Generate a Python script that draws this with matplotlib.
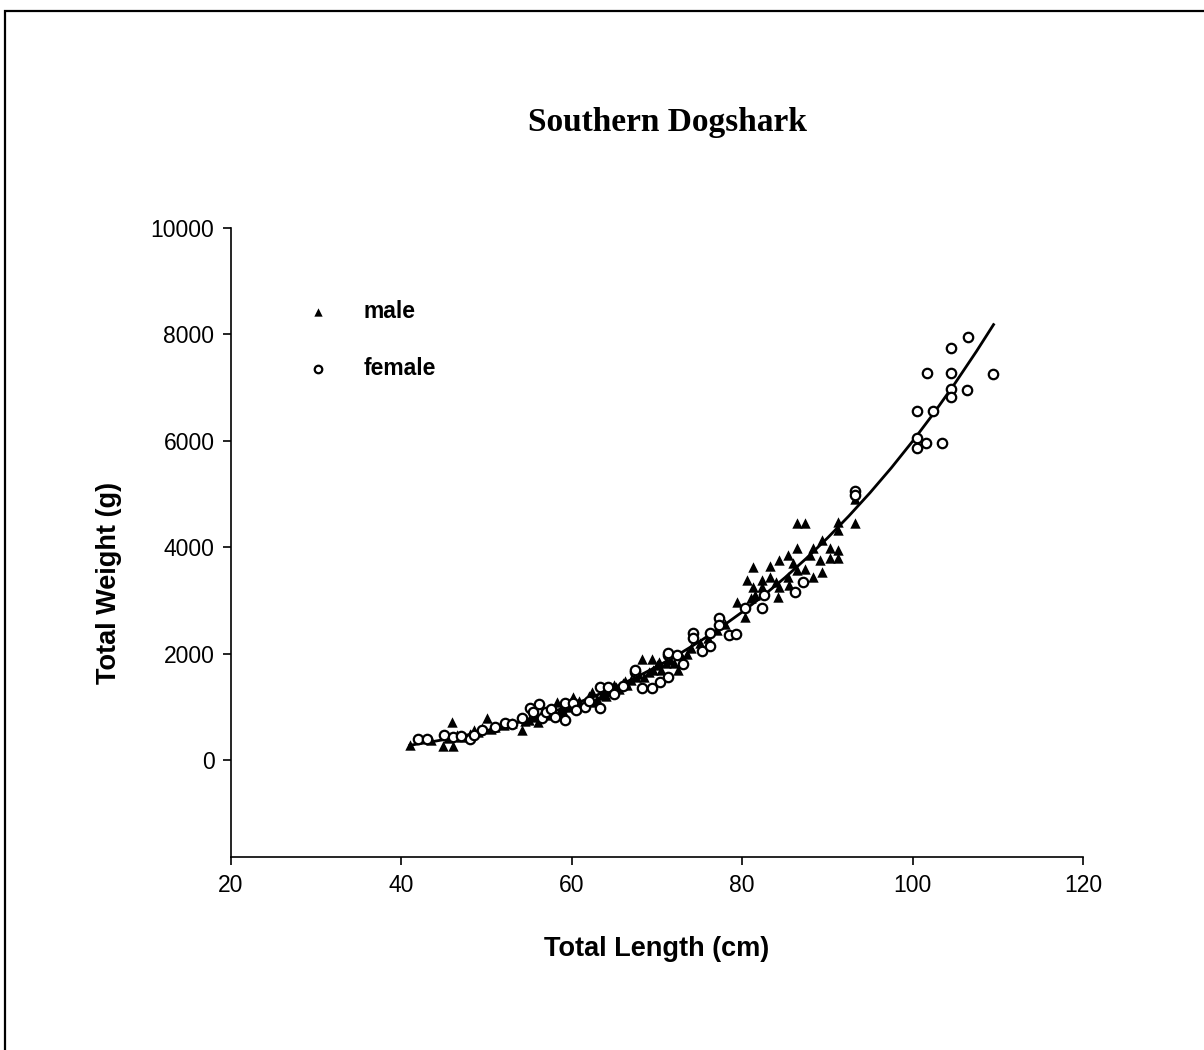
import matplotlib
matplotlib.use("Agg")
import matplotlib.pyplot as plt
from matplotlib.patches import Rectangle

# Data (length in cm, weight in g)
male_len = [41, 43.5, 44.9, 46, 45.5, 45.9, 46.5, 47, 48, 48.5, 49, 49.5, 50, 50.5, 51,
            52, 53, 54.2, 54.5, 55, 55.5, 56, 56.5, 57, 57.5, 58.3, 58.5, 59, 59.5, 60.1,
            60.5, 61, 61.5, 62.4, 62.5, 63, 63.5, 64, 64.5, 65, 65.5, 66, 66.5, 67, 67.5,
            68.2, 68.5, 69.4, 69.5, 70, 70.5, 71, 71.5, 72.5, 73, 73.5, 74, 75, 76, 77,
            78, 79.4, 80.3, 80.6, 81.3, 81.3, 81.5, 82.3, 82.3, 83.3, 83.3, 84.2, 84.3, 84.3,
            85.4, 85.4, 85.5, 86.4, 86.4, 86.4, 87.4, 87.4, 88.3, 88.3, 89.1, 89.4, 89.4,
            90.3, 90.3, 91.2, 91.2, 91.2, 91.2, 93.2, 93.2,
            55.8, 57.2, 58.8, 60.8, 62, 63.8, 65.2, 66.2, 67.8, 69, 70.2, 72, 81, 84, 86, 88]
male_wt = [290, 380, 260, 260, 420, 715, 480, 430, 500, 560, 520, 600, 800, 580, 620,
           660, 690, 560, 740, 760, 830, 720, 880, 850, 950, 1090, 880, 920, 1000, 1180,
           980, 1050, 1080, 1280, 1100, 1150, 1220, 1200, 1300, 1420, 1330, 1450, 1420, 1500, 1560,
           1900, 1560, 1900, 1700, 1780, 1700, 1820, 1880, 1690, 1900, 2000, 2100, 2200, 2300, 2450,
           2550, 2970, 2690, 3380, 3630, 3250, 3100, 3380, 3250, 3650, 3440, 3060, 3760, 3250,
           3850, 3440, 3300, 4450, 3980, 3570, 4450, 3600, 3980, 3440, 3760, 4140, 3530,
           3980, 3800, 4470, 4320, 3950, 3800, 4900, 4450,
           820, 900, 1000, 1120, 1200, 1300, 1380, 1480, 1620, 1650, 1850, 1820, 3050, 3350, 3700, 3850]

female_len = [42, 43, 45, 46, 47, 48, 48.5, 49.5, 51, 52.2, 53, 54.2, 55.1, 55.4, 56.1,
              56.5, 57, 57.5, 58, 59.2, 59.2, 60.1, 60.5, 61.5, 62, 63.3, 64.3, 63.3, 65, 66,
              67.4, 67.4, 68.2, 69.4, 70.4, 71.3, 71.3, 71.3, 72.3, 73, 74.2, 74.2, 75.3, 76.2,
              76.2, 77.3, 77.3, 78.5, 79.3, 80.3, 82.3, 82.5, 86.2, 87.1, 93.2, 93.2,
              100.5, 100.5, 100.5, 101.6, 101.7, 102.4, 103.4, 104.5, 104.5, 104.5, 104.5,
              106.4, 106.5, 109.4]
female_wt = [395, 395, 470, 430, 450, 395, 480, 560, 620, 700, 680, 790, 980, 900, 1050,
             800, 900, 960, 820, 750, 1070, 1070, 950, 1000, 1120, 1370, 1370, 980, 1250, 1400,
             1650, 1690, 1350, 1350, 1470, 1560, 1970, 2010, 1970, 1800, 2390, 2290, 2050, 2390,
             2140, 2670, 2540, 2350, 2370, 2860, 2860, 3100, 3160, 3350, 5060, 4980,
             6560, 6050, 5860, 5960, 7270, 6560, 5960, 7750, 7270, 6970, 6830,
             6950, 7950, 7260]

# fitted curve, points
fit_len = [41, 43, 45, 47.5, 50, 52.5, 55, 57.5, 60, 62.5, 65, 67.5, 70, 72.5, 75, 77.5,
           80, 82.5, 85, 87.5, 90, 92.5, 95, 97.5, 100, 102.5, 105, 107.5, 109.5]
fit_wt = [280, 330, 386, 465, 554, 655, 768, 894, 1036, 1192, 1364, 1553, 1760, 1985, 2230,
          2495, 2784, 3093, 3428, 3788, 4173, 4585, 5024, 5492, 5992, 6522, 7087, 7683, 8184]

fig = plt.figure(figsize=(12.04, 10.5), dpi=100)
ax = fig.add_axes([0.1919, 0.1838, 0.7076, 0.5991])

ax.plot(fit_len, fit_wt, color="black", linewidth=2.0, zorder=1)
ax.scatter(male_len, male_wt, marker="^", s=56, color="black", linewidths=0, label="male", zorder=2)
ax.scatter(female_len, female_wt, marker="o", s=46, facecolors="white", edgecolors="black",
           linewidths=1.6, label="female", zorder=3)

ax.set_xlim(20, 120)
ax.set_ylim(-1820, 10000)
ax.set_xticks([20, 40, 60, 80, 100, 120])
ax.set_yticks([0, 2000, 4000, 6000, 8000, 10000])
ax.spines["top"].set_visible(False)
ax.spines["right"].set_visible(False)
ax.spines["left"].set_linewidth(1.2)
ax.spines["bottom"].set_linewidth(1.2)
ax.tick_params(direction="out", length=6, width=1.2, labelsize=16.5, pad=6)
for lab in ax.get_xticklabels() + ax.get_yticklabels():
    lab.set_family("Liberation Sans")

ax.set_xlabel("Total Length (cm)", family="Liberation Sans", fontweight="bold", fontsize=19.5, labelpad=28)
ax.set_ylabel("Total Weight (g)", family="Liberation Sans", fontweight="bold", fontsize=19.5)
ax.yaxis.set_label_coords(-0.128, 0.4356)

fig.text(0.554, 0.883, "Southern Dogshark", family="Liberation Serif", fontweight="bold",
         fontsize=24, ha="center", va="center")

leg = ax.legend(loc="upper left", bbox_to_anchor=(0.075, 0.903), frameon=False,
                prop={"family": "Liberation Sans", "weight": "bold", "size": 16.5},
                markerscale=0.8, handlelength=1.0, handletextpad=1.5, labelspacing=1.45,
                borderpad=0)

# page border
fig.patches.append(Rectangle((0.004, -0.05), 1.2, 1.04, transform=fig.transFigure,
                             fill=False, edgecolor="black", linewidth=1.6))

fig.savefig("out.png", dpi=100)
